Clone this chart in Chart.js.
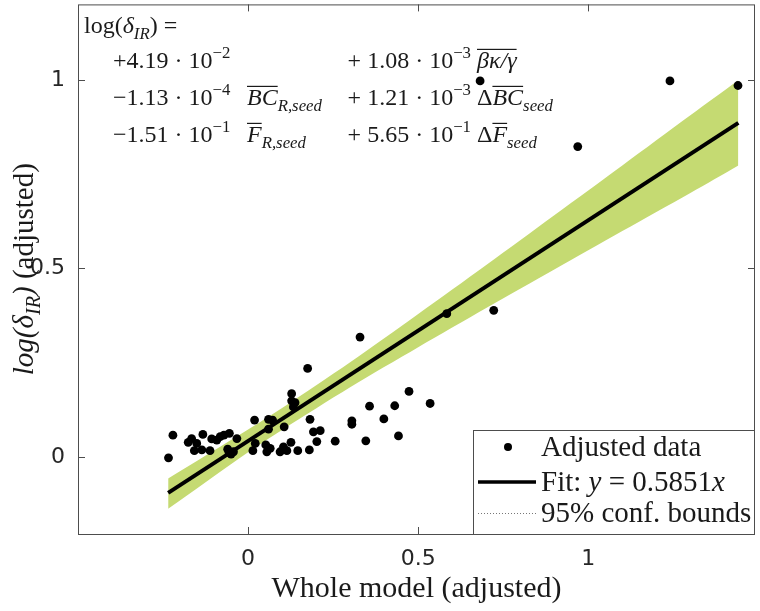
<!DOCTYPE html>
<html>
<head>
<meta charset="utf-8">
<title>Added variable plot</title>
<script src="https://cdn.jsdelivr.net/npm/chart.js"></script>
<style>
body {
	margin: 0;
	background-color: #ffffff;
}
#wrap {
	width: 760px;
	height: 611px;
}
</style>
</head>
<body>
<div id="wrap"><canvas id="avPlot"></canvas></div>
<script>
// adjusted data
const pointX = [-0.234, -0.221, -0.176, -0.166, -0.151, -0.133, -0.158, -0.136, -0.112, -0.107, -0.092, -0.082, -0.071, -0.055, -0.033, -0.060, -0.050, -0.043, -0.056,
	0.019, 0.021, 0.014, 0.060, 0.072, 0.060, 0.052, 0.055, 0.065, 0.106, 0.104, 0.094, 0.114, 0.126, 0.128, 0.128, 0.138, 0.133, 0.146,
	0.175, 0.182, 0.192, 0.212, 0.202, 0.180, 0.256, 0.305, 0.305, 0.329, 0.346, 0.357, 0.399, 0.431, 0.442, 0.473, 0.535, 0.584, 0.722,
	0.682, 0.969, 1.240, 1.440];
const pointY = [-0.002, 0.058, 0.039, 0.049, 0.036, 0.060, 0.017, 0.019, 0.017, 0.048, 0.045, 0.054, 0.058, 0.063, 0.049, 0.021, 0.008, 0.014, 0.012,
	0.098, 0.036, 0.017, 0.100, 0.098, 0.074, 0.032, 0.014, 0.023, 0.080, 0.027, 0.014, 0.017, 0.039, 0.168, 0.149, 0.144, 0.133, 0.017,
	0.235, 0.100, 0.067, 0.070, 0.041, 0.019, 0.042, 0.096, 0.087, 0.318, 0.043, 0.135, 0.101, 0.136, 0.056, 0.174, 0.142, 0.380, 0.389,
	0.997, 0.823, 0.997, 0.985];

// fit line end points
const fitX = [-0.235, 1.441];
const fitY = [-0.095, 0.886];

// 95% confidence band
const bandX = [-0.235, 0, 0.1, 0.3, 0.5, 0.7, 0.9, 1.1, 1.3, 1.441];
const bandUpper = [-0.057, 0.073, 0.130, 0.251, 0.379, 0.509, 0.641, 0.773, 0.906, 0.999];
const bandLower = [-0.137, 0.013, 0.072, 0.185, 0.291, 0.395, 0.497, 0.599, 0.700, 0.773];

const xTicks = [0, 0.5, 1];
const yTicks = [0, 0.5, 1];

const SERIF = '"Liberation Serif", "DejaVu Serif", serif';
const INK = '#1a1a1a';
const AXIS = '#4d4d4d';

function pairs(xs, ys) {
	return xs.map((x, i) => ({ x: x, y: ys[i] }));
}

// little text runner for the tex-like labels: flags i=italic, b=sub, p=sup, o=overline
function runFont(size, f) {
	const s = (f.includes('b') || f.includes('p')) ? size * 0.7 : size;
	return (f.includes('i') ? 'italic ' : '') + s.toFixed(1) + 'px ' + SERIF;
}
function runsWidth(ctx, runs, size) {
	let w = 0;
	runs.forEach(([t, f]) => {
		ctx.font = runFont(size, f);
		w += ctx.measureText(t).width;
	});
	return w;
}
function drawRuns(ctx, x, y, runs, size) {
	let cx = x;
	runs.forEach(([t, f]) => {
		ctx.font = runFont(size, f);
		const dy = f.includes('p') ? -size * 0.42 : (f.includes('b') ? size * 0.25 : 0);
		ctx.fillText(t, cx, y + dy);
		const w = ctx.measureText(t).width;
		if (f.includes('o')) {
			ctx.fillRect(cx, y - size * 0.8, w, 1.2);
		}
		cx += w;
	});
	return cx - x;
}

const decor = {
	id: 'decor',
	afterDraw(chart) {
		const ctx = chart.ctx;
		const a = chart.chartArea;
		const xs = chart.scales.x, ys = chart.scales.y;
		ctx.save();

		// inward ticks and box
		ctx.strokeStyle = AXIS;
		ctx.lineWidth = 1;
		ctx.beginPath();
		xTicks.forEach(v => {
			const p = Math.round(xs.getPixelForValue(v)) + 0.5;
			ctx.moveTo(p, a.bottom); ctx.lineTo(p, a.bottom - 7);
			ctx.moveTo(p, a.top); ctx.lineTo(p, a.top + 7);
		});
		yTicks.forEach(v => {
			const p = Math.round(ys.getPixelForValue(v)) + 0.5;
			ctx.moveTo(a.left, p); ctx.lineTo(a.left + 7, p);
			ctx.moveTo(a.right, p); ctx.lineTo(a.right - 7, p);
		});
		ctx.stroke();
		ctx.strokeRect(a.left + 0.5, a.top + 0.5, a.right - a.left - 1, a.bottom - a.top);

		// equation block
		ctx.fillStyle = INK;
		ctx.textBaseline = 'alphabetic';
		ctx.textAlign = 'left';
		const fs = 24;
		drawRuns(ctx, 84, 33, [['log(', ''], ['δ', 'i'], ['IR', 'ib'], [') =', '']], fs);
		const col2 = 471, col2v = 477;
		const rows = [
			{ y: 68, c1: [['+4.19 · 10', ''], ['−2', 'p']], v1: [],
				c2: [['+ 1.08 · 10', ''], ['−3', 'p']], v2: [['βκ/γ', 'io']] },
			{ y: 105, c1: [['−1.13 · 10', ''], ['−4', 'p']], v1: [['BC', 'io'], ['R,seed', 'ib']],
				c2: [['+ 1.21 · 10', ''], ['−3', 'p']], v2: [['Δ', ''], ['BC', 'io'], ['seed', 'ib']] },
			{ y: 142, c1: [['−1.51 · 10', ''], ['−1', 'p']], v1: [['F', 'io'], ['R,seed', 'ib']],
				c2: [['+ 5.65 · 10', ''], ['−1', 'p']], v2: [['Δ', ''], ['F', 'io'], ['seed', 'ib']] }
		];
		rows.forEach(r => {
			drawRuns(ctx, 113, r.y, r.c1, fs);
			drawRuns(ctx, 247, r.y, r.v1, fs);
			drawRuns(ctx, col2 - runsWidth(ctx, r.c2, fs), r.y, r.c2, fs);
			drawRuns(ctx, col2v, r.y, r.v2, fs);
		});

		// y axis title
		const yl = [['log(', 'i'], ['δ', 'i'], ['IR', 'ib'], [')', 'i'], [' (adjusted)', '']];
		const lfs = 29;
		ctx.translate(24, (a.top + a.bottom) / 2);
		ctx.rotate(-Math.PI / 2);
		drawRuns(ctx, -runsWidth(ctx, yl, lfs) / 2, 9, yl, lfs);
		ctx.setTransform(1, 0, 0, 1, 0, 0);

		// legend box
		const lx = 473, ly = 430;
		ctx.fillStyle = '#ffffff';
		ctx.fillRect(lx, ly, a.right - lx, a.bottom - ly);
		ctx.strokeStyle = AXIS;
		ctx.strokeRect(lx + 0.5, ly + 0.5, a.right - lx - 1, a.bottom - ly);
		ctx.fillStyle = '#000000';
		ctx.beginPath();
		ctx.arc(508, 447, 4, 0, Math.PI * 2);
		ctx.fill();
		ctx.strokeStyle = '#000000';
		ctx.lineWidth = 3.5;
		ctx.beginPath();
		ctx.moveTo(478, 482); ctx.lineTo(536, 482);
		ctx.stroke();
		ctx.strokeStyle = '#777777';
		ctx.lineWidth = 1;
		ctx.setLineDash([1, 2]);
		ctx.beginPath();
		ctx.moveTo(478, 513.5); ctx.lineTo(536, 513.5);
		ctx.stroke();
		ctx.setLineDash([]);
		ctx.fillStyle = INK;
		const gfs = 29;
		drawRuns(ctx, 541, 456, [['Adjusted data', '']], gfs);
		drawRuns(ctx, 541, 491, [['Fit: ', ''], ['y', 'i'], [' = 0.5851', ''], ['x', 'i']], gfs);
		drawRuns(ctx, 541, 522, [['95% conf. bounds', '']], gfs);
		ctx.restore();
	}
};

const ctx = document.getElementById('avPlot').getContext('2d');
const avChart = new Chart(ctx, {
	type: 'scatter',
	data: {
		datasets: [
			{
				label: 'Adjusted data',
				data: pairs(pointX, pointY),
				backgroundColor: '#000000',
				borderWidth: 0,
				pointRadius: 4.4,
				order: 0
			},
			{
				label: 'Fit',
				data: pairs(fitX, fitY),
				showLine: true,
				borderColor: '#000000',
				borderWidth: 4,
				pointRadius: 0,
				order: 1
			},
			{
				label: 'upper',
				data: pairs(bandX, bandUpper),
				showLine: true,
				borderWidth: 0,
				borderColor: 'rgba(0,0,0,0)',
				backgroundColor: '#c5da72',
				fill: '+1',
				tension: 0.3,
				pointRadius: 0,
				order: 2
			},
			{
				label: 'lower',
				data: pairs(bandX, bandLower),
				showLine: true,
				borderWidth: 0,
				borderColor: 'rgba(0,0,0,0)',
				tension: 0.3,
				pointRadius: 0,
				order: 3
			}
		]
	},
	options: {
		responsive: true,
		maintainAspectRatio: false,
		animation: false,
		layout: { padding: { top: 3, right: 5, left: 0, bottom: 0 } },
		plugins: {
			legend: { display: false },
			tooltip: { enabled: false }
		},
		scales: {
			x: {
				type: 'linear',
				min: -0.5,
				max: 1.49,
				grid: { display: false },
				border: { display: false },
				afterBuildTicks: s => { s.ticks = xTicks.map(v => ({ value: v })); },
				afterFit: s => { s.height = 77; s.paddingLeft = 0; s.paddingRight = 0; },
				ticks: {
					padding: 4,
					color: '#262626',
					font: { family: '"DejaVu Sans"', size: 22 },
					callback: v => String(v)
				},
				title: {
					display: true,
					text: 'Whole model (adjusted)',
					color: INK,
					font: { family: SERIF, size: 30 },
					padding: { top: 0, bottom: 4 }
				}
			},
			y: {
				type: 'linear',
				min: -0.204,
				max: 1.2,
				grid: { display: false },
				border: { display: false },
				afterBuildTicks: s => { s.ticks = yTicks.map(v => ({ value: v })); },
				afterFit: s => { s.width = 78; s.paddingTop = 0; s.paddingBottom = 0; },
				ticks: {
					padding: 5,
					color: '#262626',
					font: { family: '"DejaVu Sans"', size: 22 },
					callback: v => String(v)
				}
			}
		}
	},
	plugins: [decor]
});
</script>
</body>
</html>
